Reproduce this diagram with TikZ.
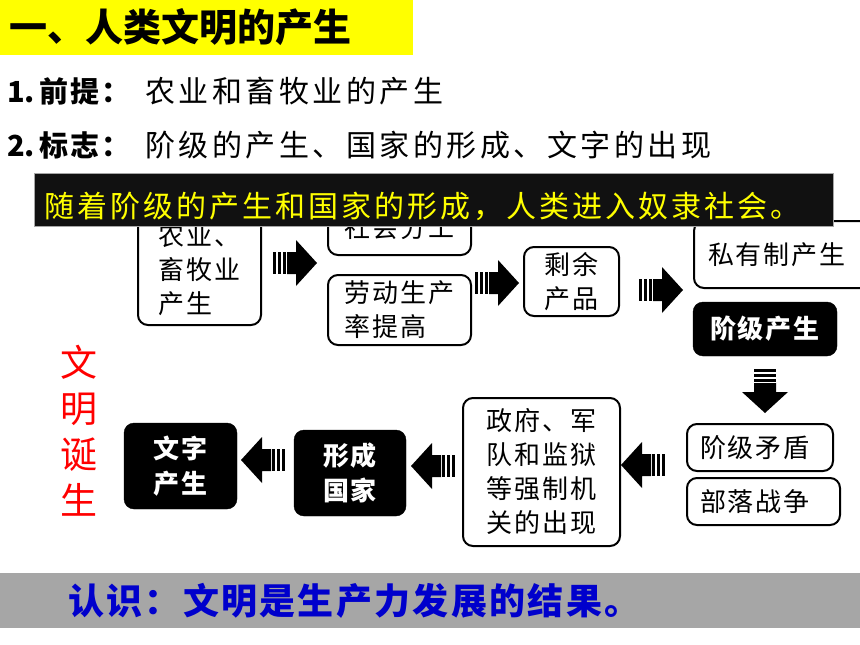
\documentclass[tikz,border=0pt]{standalone}
\usepackage{fontspec}
\setmainfont{Noto Sans CJK SC}
\definecolor{titleyellow}{HTML}{FFFF00}
\definecolor{bannerblk}{HTML}{111111}
\definecolor{bannertext}{HTML}{FFFF00}
\definecolor{graybar}{HTML}{A6A6A6}
\definecolor{concltext}{HTML}{0000CC}
\definecolor{redtext}{HTML}{FF0000}
\makeatletter
\newcommand\ls[2]{{\def\ls@g{}\@tfor\ls@c:=#2\do{\ls@g\ls@c\def\ls@g{\hspace{#1}}}}}
\makeatother
\tikzset{
  wbox/.style={draw=black, line width=2pt, rounded corners=10pt, fill=white, inner sep=0pt,
    font=\fontsize{26}{34}\selectfont},
  bbox/.style={draw=black, fill=black, rounded corners=10pt, inner sep=0pt, text=white,
    font=\fontsize{26}{35}\selectfont\bfseries},
  plain/.style={inner sep=0pt},
  barrow/.pic={
    \fill[black] (-22,-11) rectangle (-19,11);
    \fill[black] (-17,-11) rectangle (-14,11);
    \fill[black] (-12,-11) rectangle (-9,11);
    \fill[black] (-8,-11) -- (1,-11) -- (1,-23) -- (22,0) -- (1,23) -- (1,11) -- (-8,11) -- cycle;
  }
}
\begin{document}
\begin{tikzpicture}[x=1pt,y=-1pt]
\useasboundingbox (0,0) rectangle (860,645);

% title
\node[fill=titleyellow, anchor=north west, minimum width=413pt, minimum height=55pt, inner sep=0pt] (titlebg) at (0,0) {};
\node[plain, anchor=west, font=\fontsize{38}{40}\selectfont\bfseries] (title) at (9,27) {一、人类文明的产生};

% lines
\node[plain, anchor=west, font=\fontsize{29}{34}\selectfont\bfseries] (l1lab) at (7,91) {1.\hspace{4pt}\ls{2pt}{前提：}};
\node[plain, anchor=west, font=\fontsize{30}{34}\selectfont] (l1) at (145,91) {\ls{3.5pt}{农业和畜牧业的产生}};
\node[plain, anchor=west, font=\fontsize{29}{34}\selectfont\bfseries] (l2lab) at (7,145) {2.\hspace{4pt}\ls{2pt}{标志：}};
\node[plain, anchor=west, font=\fontsize{30}{34}\selectfont] (l2) at (145,145) {\ls{3.5pt}{阶级的产生、国家的形成、文字的出现}};

% top row boxes (partly under banner)
\node[wbox, minimum width=123pt, minimum height=110pt, align=left] (agri) at (199.5,270) {\ls{2pt}{农业、}\\\ls{2pt}{畜牧业}\\\ls{2pt}{产生}};
\node[wbox, minimum width=143pt, minimum height=55pt] (fengong) at (399.5,227.5) {\ls{2pt}{社会分工}};
\node[wbox, minimum width=143pt, minimum height=70pt, align=left] (laodong) at (399.5,310) {\ls{2pt}{劳动生产}\\\ls{2pt}{率提高}};
\node[wbox, minimum width=95pt, minimum height=69pt, align=center] (shengyu) at (571.5,281.5) {\ls{2pt}{剩余}\\\ls{2pt}{产品}};
\node[wbox, anchor=west, minimum height=67pt, inner xsep=14pt, text width=176pt, align=left] (siyou) at (693,254.5) {\ls{2pt}{私有制产生}};

% banner
\node[fill=bannerblk, draw=gray!70, line width=0.8pt, anchor=north west, minimum width=799pt, minimum height=53pt, inner sep=0pt] (banner) at (34,173) {};
\node[plain, anchor=west, text=bannertext, font=\fontsize{30}{34}\selectfont] (bannertxt) at (44,206) {\ls{3pt}{随着阶级的产生和国家的形成，人类进入奴隶社会。}};

% right column
\node[bbox, minimum width=144pt, minimum height=54pt] (jieji) at (765,329) {\ls{2pt}{阶级产生}};
\node[wbox, minimum height=47pt, inner xsep=13pt, text width=120pt, align=left] (maodun) at (760,447.5) {\ls{2pt}{阶级矛盾}};
\node[wbox, minimum height=47pt, inner xsep=13pt, text width=127pt, align=left] (zhanzheng) at (763.5,501.5) {\ls{2pt}{部落战争}};

% bottom row
\node[wbox, minimum width=157pt, minimum height=148pt, align=center] (zhengfu) at (541.5,472) {\ls{2pt}{政府、军}\\\ls{2pt}{队和监狱}\\\ls{2pt}{等强制机}\\\ls{2pt}{关的出现}};
\node[bbox, minimum width=112pt, minimum height=86pt, align=center] (guojia) at (350,473) {\ls{2pt}{形成}\\\ls{2pt}{国家}};
\node[bbox, minimum width=113pt, minimum height=86pt, align=center] (wenzi) at (180.5,466) {\ls{2pt}{文字}\\\ls{2pt}{产生}};

% red vertical text
\node[plain, text=redtext, font=\fontsize{37}{46}\selectfont, align=center] (wmdan) at (79,431) {文\\明\\诞\\生};

% block arrows
\pic (a1) at (295,263) {barrow};
\pic (a2) at (497,283) {barrow};
\pic (a3) at (661,290) {barrow};
\pic[rotate=-90] (a4) at (765,391) {barrow};
\pic[rotate=180] (a5) at (643,465) {barrow};
\pic[rotate=180] (a6) at (433,466) {barrow};
\pic[rotate=180] (a7) at (263,460) {barrow};

% conclusion bar
\node[fill=graybar, anchor=north west, minimum width=860pt, minimum height=55pt, inner sep=0pt] (bar) at (0,573) {};
\node[plain, anchor=west, text=concltext, font=\fontsize{36}{40}\selectfont\bfseries] (concl) at (68,601) {\ls{2.3pt}{认识：文明是生产力发展的结果。}};
\end{tikzpicture}
\end{document}
